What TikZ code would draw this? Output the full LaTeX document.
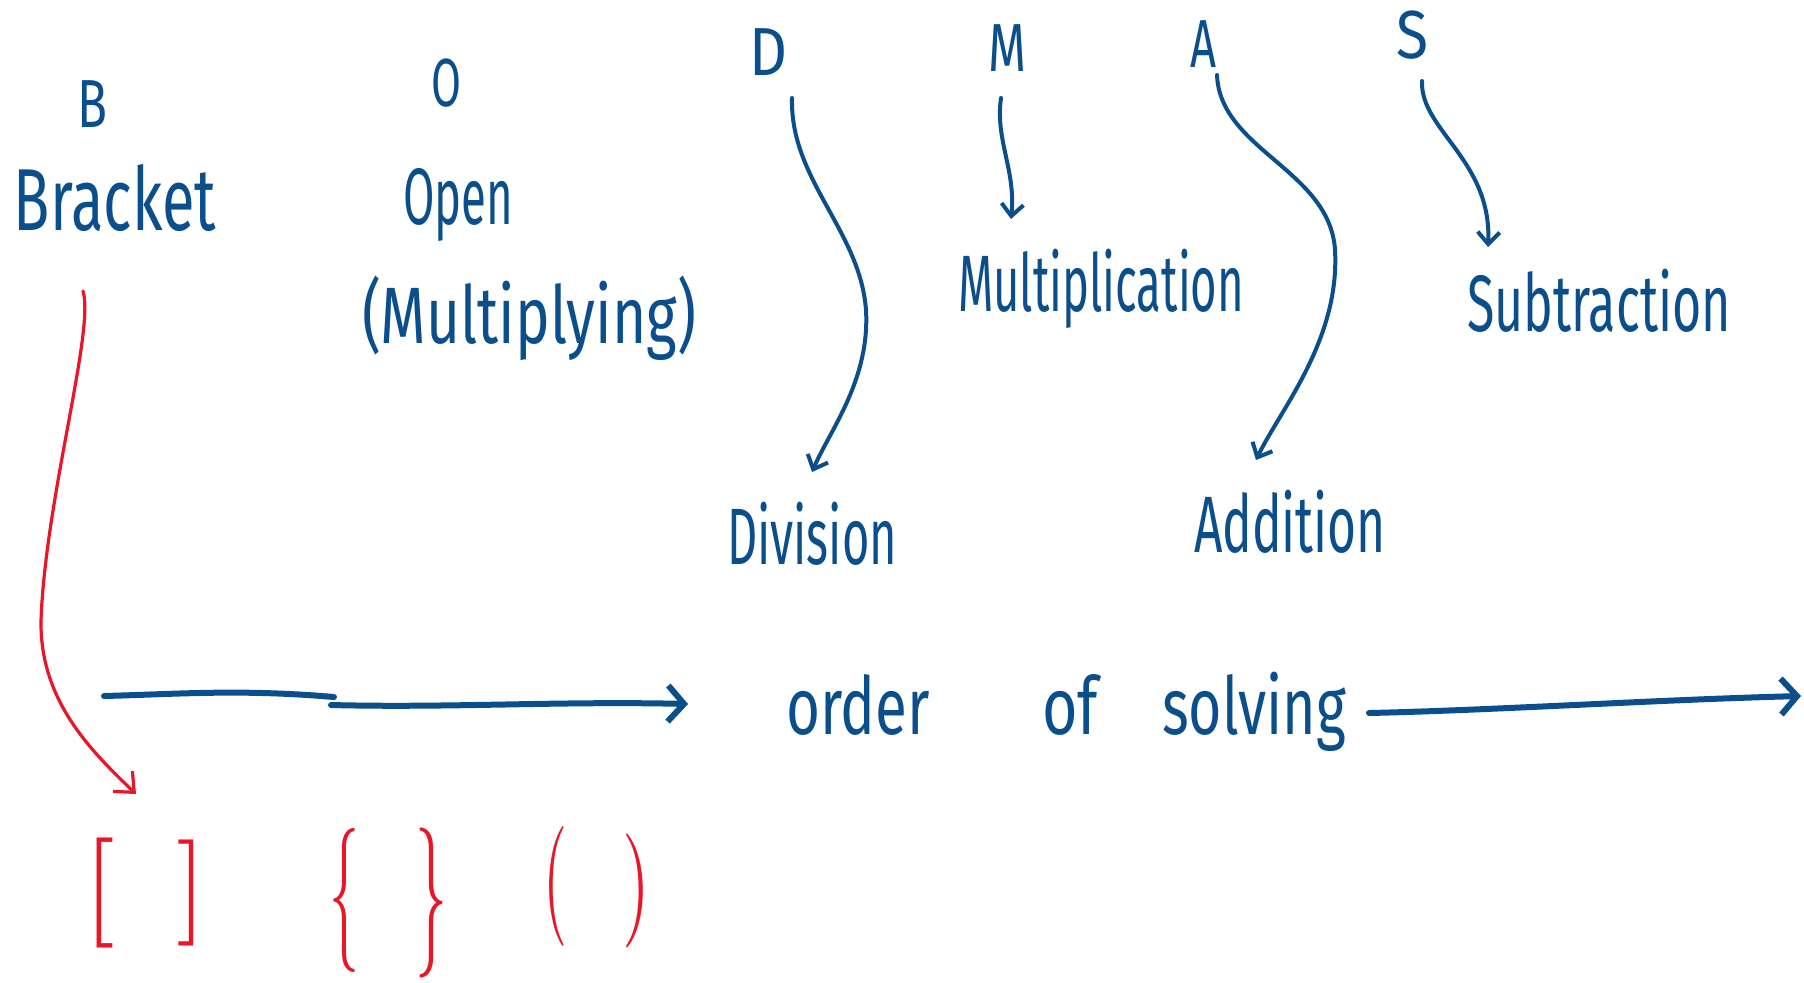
\documentclass[tikz,border=0pt]{standalone}
\usepackage{fontspec}
\newfontfamily\handfont{Fira Sans}
\usetikzlibrary{arrows.meta}
\definecolor{inkblue}{RGB}{10,78,140}
\definecolor{inkred}{RGB}{232,22,40}
\newcommand\hw[2]{\resizebox{#1}{\height}{#2}}
\begin{document}
\begin{tikzpicture}[x=0.5pt,y=-0.5pt,
  word/.style={inner sep=0pt, anchor=base, text=inkblue, font=\handfont\fontsize{40}{40}\selectfont},
  letter/.style={inner sep=0pt, anchor=base, text=inkblue, font=\handfont\fontsize{34}{34}\selectfont},
  brk/.style={inner sep=0pt, text=inkred, font=\rmfamily},
  barrow/.style={draw=inkblue, line width=2pt, line cap=round, -{Straight Barb[length=6pt,width=11pt]}},
  hline/.style={draw=inkblue, line width=3pt, line cap=round},
  harrow/.style={hline, -{Straight Barb[length=8pt,width=18pt]}},
  rarrow/.style={draw=inkred, line width=1.6pt, line cap=round, -{Straight Barb[length=8pt,width=14pt]}}
]
\useasboundingbox[fill=white] (0,0) rectangle (1804,982);

% letters
\node[letter] (B) at (92,127) {\hw{15pt}{B}};
\node[letter] (O) at (446,106) {\hw{15pt}{O}};
\node[letter] (D) at (768,75) {\hw{19pt}{D}};
\node[letter] (M) at (1007,71) {\hw{19pt}{M}};
\node[letter] (A) at (1203,67) {\hw{13pt}{A}};
\node[letter] (S) at (1412,58) {\hw{16pt}{S}};

% words
\node[word, font=\handfont\fontsize{44}{44}\selectfont] (bracket) at (115,230) {\hw{101pt}{Bracket}};
\node[word] (open) at (458,224) {\hw{55pt}{Open}};
\node[word] (mulg) at (529,343) {\hw{167pt}{(Multiplying)}};
\node[word] (mult) at (1101,311) {\hw{143pt}{Multiplication}};
\node[word] (div) at (812,564) {\hw{85pt}{Division}};
\node[word] (add) at (1290,552) {\hw{96pt}{Addition}};
\node[word] (sub) at (1599,331) {\hw{132pt}{Subtraction}};
\node[word] (ord) at (1066,734) {\hw{72pt}{order}\hspace{56pt}\hw{28pt}{of}\hspace{32pt}\hw{92pt}{solving}};

% red brackets
\node[brk] (lb) at (100,893) {\resizebox*{16pt}{55pt}{[}};
\node[brk] (rb) at (192,893) {\resizebox*{15pt}{53pt}{]}};
\node[brk] (lc) at (344,900) {\resizebox*{15pt}{72pt}{\{}};
\node[brk] (rc) at (431,903) {\resizebox*{16pt}{75pt}{\}}};
\node[brk] (lp) at (555,886) {\resizebox*{12pt}{60pt}{(}};
\node[brk] (rp) at (636,891) {\resizebox*{14pt}{57pt}{)}};

% curved arrows
\draw[barrow] ([shift={(24,23)}]D.base) .. controls (790,180) and (860,230) .. (866,310)
  .. controls (870,380) and (830,430) .. ([shift={(0,-92)}]div.base);
\draw[barrow] ([shift={(-6,27)}]M.base) .. controls (995,140) and (1016,170) .. ([shift={(-90,-92)}]mult.base);
\draw[barrow] ([shift={(14,8)}]A.base) .. controls (1220,150) and (1330,170) .. (1335,250)
  .. controls (1340,340) and (1280,410) .. ([shift={(-34,-92)}]add.base);
\draw[barrow] ([shift={(10,23)}]S.base) .. controls (1420,130) and (1492,160) .. ([shift={(-111,-84)}]sub.base);
\draw[rarrow] ([shift={(-32,61)}]bracket.base) .. controls (95,330) and (45,500) .. (41,621)
  .. controls (40,700) and (90,750) .. ([shift={(36,-99)}]lb.center);

% horizontal arrows
\coordinate (h1a) at (104,696);
\coordinate (h1b) at (334,697);
\coordinate (h1c) at (331,705);
\coordinate (h1d) at (688,704);
\coordinate (h2a) at (1369,713);
\coordinate (h2b) at (1801,696);
\draw[hline] (h1a) .. controls (180,694) and (240,689) .. (h1b);
\draw[harrow] (h1c) .. controls (450,708) and (560,701) .. (h1d);
\draw[harrow] (h2a) .. controls (1500,710) and (1650,700) .. (h2b);
\end{tikzpicture}
\end{document}
